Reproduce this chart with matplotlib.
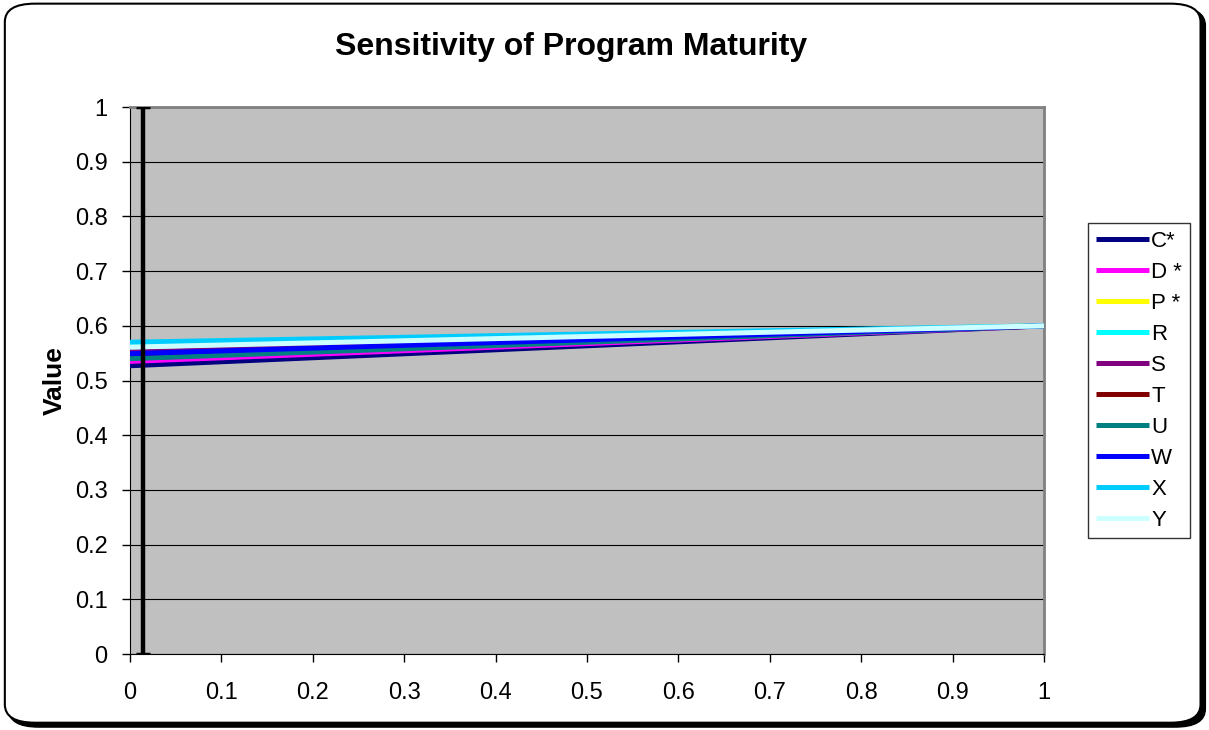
import matplotlib.pyplot as plt
from matplotlib.patches import FancyBboxPatch

plt.rcParams['font.family'] = ['Liberation Sans', 'DejaVu Sans']

# series: straight lines from weight 0 to weight 1
x_pts = [0, 1]
names = ['C*', 'D *', 'P *', 'R', 'S', 'T', 'U', 'W', 'X', 'Y']
colors = ['#000080', '#FF00FF', '#FFFF00', '#00FFFF', '#800080',
          '#800000', '#008080', '#0000FF', '#00CCFF', '#CCFFFF']
start_vals = [0.527, 0.535, 0.563, 0.566, 0.552, 0.545, 0.540, 0.549, 0.570, 0.561]
end_vals = [0.6, 0.6, 0.6, 0.6, 0.6, 0.6, 0.6, 0.6, 0.6, 0.6]

# baseline marker (black bar spanning full range)
base_x = 0.014
base_lo = 0.0
base_hi = 1.0

ticks = [0, 0.1, 0.2, 0.3, 0.4, 0.5, 0.6, 0.7, 0.8, 0.9, 1]
tick_labels = ['0', '0.1', '0.2', '0.3', '0.4', '0.5', '0.6', '0.7', '0.8', '0.9', '1']

fig = plt.figure(figsize=(12.09, 7.3), dpi=100)
fig.patch.set_facecolor('white')

# rounded frame with shadow
shadow = FancyBboxPatch((0.007, 0.004), 0.990, 0.986, boxstyle='round,pad=0,rounding_size=0.025',
                        transform=fig.transFigure, facecolor='black', edgecolor='black', zorder=0)
frame = FancyBboxPatch((0.004, 0.010), 0.989, 0.985, boxstyle='round,pad=0,rounding_size=0.025',
                       transform=fig.transFigure, facecolor='white', edgecolor='black', lw=1.5, zorder=1)
fig.patches.extend([shadow, frame])

ax = fig.add_axes([0.1075, 0.1041, 0.756, 0.7493])
ax.set_facecolor('#C0C0C0')
ax.set_zorder(2)

for n, c, s, e in zip(names, colors, start_vals, end_vals):
    ax.plot(x_pts, [s, e], color=c, lw=3.6, label=n, solid_capstyle='butt', zorder=3)

ax.errorbar([base_x], [(base_lo + base_hi) / 2], yerr=[(base_hi - base_lo) / 2],
            fmt='none', ecolor='black', elinewidth=3.2, capsize=5, capthick=2.5, zorder=4)

ax.set_xlim(0, 1)
ax.set_ylim(0, 1)
ax.set_xticks(ticks)
ax.set_xticklabels(tick_labels)
ax.set_yticks(ticks)
ax.set_yticklabels(tick_labels)
ax.tick_params(labelsize=17, direction='out', length=6, width=1)
ax.tick_params(axis='x', pad=14)
ax.tick_params(axis='y', pad=10)
ax.yaxis.grid(True, color='black', lw=0.8)
ax.set_axisbelow(True)
for sp in ['top', 'right']:
    ax.spines[sp].set_color('#808080')
    ax.spines[sp].set_linewidth(2)
for sp in ['left', 'bottom']:
    ax.spines[sp].set_color('black')

ax.set_ylabel('Value', fontsize=19, fontweight='bold', labelpad=6)
fig.text(0.472, 0.9356, 'Sensitivity of Program Maturity', ha='center', va='center',
         fontsize=23, fontweight='bold')

leg = ax.legend(loc='center left', bbox_to_anchor=(1.048, 0.5), frameon=True, fancybox=False,
                fontsize=16, handlelength=2.4, handletextpad=0.1, labelspacing=0.45,
                borderpad=0.35, borderaxespad=0)
leg.get_frame().set_edgecolor('black')
leg.get_frame().set_linewidth(1)

fig.savefig('out.png', dpi=100)
